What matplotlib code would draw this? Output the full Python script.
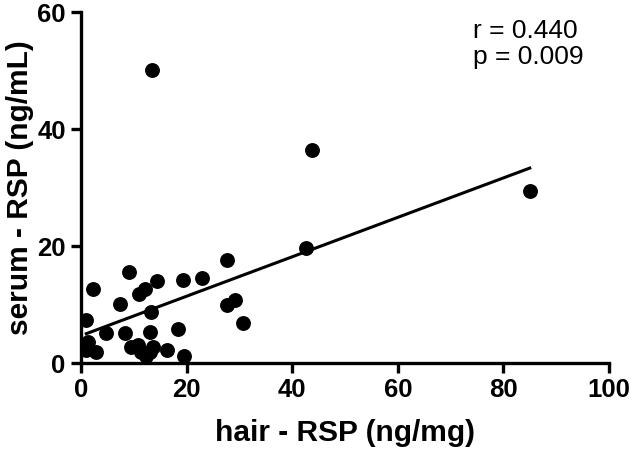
import matplotlib
matplotlib.use('Agg')
import matplotlib.pyplot as plt
import numpy as np

plt.rcParams['font.family'] = ['Liberation Sans', 'DejaVu Sans']

# hair RSP (ng/mg) vs serum RSP (ng/mL)
hair = [13.4, 43.7, 85.0, 42.6, 27.7, 22.9, 19.4, 14.3, 9.1, 2.3,
        12.1, 10.9, 7.3, 1.0, 13.2, 27.6, 29.2, 30.6, 18.4, 8.3,
        4.8, 13.0, 1.3, 1.0, 2.9, 9.5, 10.8, 11.4, 13.0, 13.6,
        16.2, 19.6, 12.3]
serum = [50.1, 36.5, 29.4, 19.7, 17.6, 14.5, 14.2, 14.0, 15.6, 12.6,
         12.6, 11.9, 10.1, 7.3, 8.7, 9.9, 10.8, 6.9, 5.8, 5.1,
         5.1, 5.4, 3.6, 2.2, 1.9, 2.8, 3.1, 1.9, 1.9, 2.8,
         2.2, 1.2, 1.3]

# regression line as drawn
fit_slope = 0.337
fit_intercept = 4.7
r_text = 'r = 0.440'
p_text = 'p = 0.009'

fig = plt.figure(figsize=(6.33, 4.5), dpi=100)
ax = fig.add_axes([0.128, 0.193, 0.834, 0.78])

ax.scatter(hair, serum, s=115, color='black', zorder=3, linewidths=0)
xs = np.array([min(hair), max(hair)])
ax.plot(xs, fit_intercept + fit_slope * xs, color='black', lw=2.2, zorder=2)

ax.set_xlim(0, 100)
ax.set_ylim(0, 60)
ax.set_xticks([0, 20, 40, 60, 80, 100])
ax.set_yticks([0, 20, 40, 60])

for side in ['top', 'right']:
    ax.spines[side].set_visible(False)
for side in ['left', 'bottom']:
    ax.spines[side].set_linewidth(2.4)
ax.tick_params(width=2.4, length=7, labelsize=18.5, pad=4)
for lab in ax.get_xticklabels() + ax.get_yticklabels():
    lab.set_fontweight('bold')

ax.set_xlabel('hair - RSP (ng/mg)', fontsize=21.5, fontweight='bold', labelpad=12)
ax.set_ylabel('serum - RSP (ng/mL)', fontsize=21.5, fontweight='bold', labelpad=2)

ax.text(0.742, 0.926, r_text, transform=ax.transAxes, fontsize=19,
        va='baseline', ha='left')
ax.text(0.742, 0.852, p_text, transform=ax.transAxes, fontsize=19,
        va='baseline', ha='left')

fig.savefig('out.png', dpi=100)
